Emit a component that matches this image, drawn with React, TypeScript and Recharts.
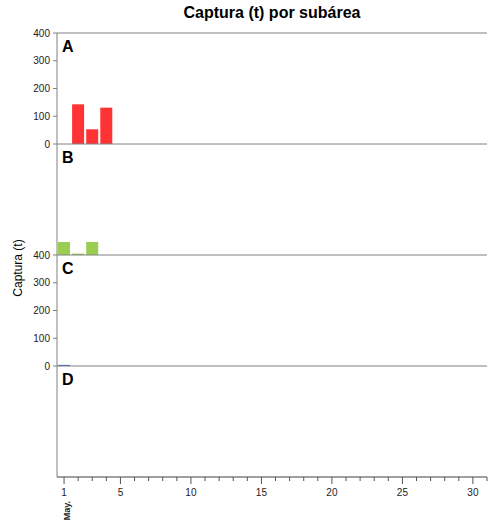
import { Bar, BarChart, ReferenceLine, XAxis, YAxis } from "recharts";

const days = Array.from({ length: 31 }, (_, i) => i + 1);
const subareas = ["A", "B", "C", "D"];
const colors = ["#ff3333", "#9acd50", "#3366cc", "#aa66cc"];

// catch (t) per day of May for each subarea
const catchA: Record<number, number> = { 2: 143, 3: 53, 4: 131 };
const catchB: Record<number, number> = { 1: 47, 2: 5, 3: 47 };
const catchC: Record<number, number> = { 1: 4 };
const catchD: Record<number, number> = {};
const seriesBySubarea = [catchA, catchB, catchC, catchD];

const yTicks = [0, 100, 200, 300, 400];
const xMajor = [1, 5, 10, 15, 20, 25, 30];

const PANEL_H = 111;
const TOP = 33;
const PAD = 12;
const FONT = "'Liberation Sans', Arial, sans-serif";

function XTick(props: any) {
  const { x, y, payload } = props;
  const major = xMajor.includes(payload.value);
  return (
    <g>
      <line x1={x} x2={x} y1={y} y2={y + (major ? 7 : 4)} stroke="#555" strokeWidth={1} />
      {major && (
        <text x={x} y={y + 19} textAnchor="middle" fontSize={10} fill="#222" fontFamily={FONT}>
          {payload.value}
        </text>
      )}
      {payload.value === 1 && (
        <text
          x={x + 6}
          y={y + 24}
          textAnchor="end"
          fontSize={9}
          fontWeight="bold"
          fill="#222"
          fontFamily={FONT}
          transform={`rotate(-90, ${x + 6}, ${y + 24})`}
        >
          May.
        </text>
      )}
    </g>
  );
}

function Panel({ index }: { index: number }) {
  const values = seriesBySubarea[index];
  const rows = days.map(day => ({ day, value: values[day] ?? 0 }));
  const last = index === subareas.length - 1;
  const showY = index % 2 === 0;
  const bottomExtra = last ? 44 : PAD;
  return (
    <div style={{ position: "absolute", left: 0, top: TOP - PAD + index * PANEL_H }}>
      <BarChart
        width={489}
        height={PANEL_H + PAD + bottomExtra}
        data={rows}
        margin={{ top: PAD, right: 2, bottom: last ? 0 : PAD, left: 0 }}
        style={{ overflow: "visible" }}
      >
        <XAxis
          dataKey="day"
          type="number"
          domain={[0.5, 31]}
          ticks={days}
          interval={0}
          hide={!last}
          height={last ? 44 : 0}
          axisLine={{ stroke: "#808080" }}
          tickLine={false}
          tickSize={0}
          tickMargin={0}
          tick={<XTick />}
        />
        <YAxis
          domain={[0, 400]}
          ticks={yTicks}
          width={57}
          axisLine={{ stroke: "#808080" }}
          tickLine={showY ? { stroke: "#808080" } : false}
          tick={showY ? { fontSize: 10, fill: "#222", fontFamily: FONT } : false}
          tickSize={4}
          tickMargin={3}
          interval={0}
        />
        {index === 0 && <ReferenceLine y={400} stroke="#808080" />}
        <ReferenceLine y={0} stroke="#808080" />
        <Bar dataKey="value" fill={colors[index]} barSize={12} isAnimationActive={false} />
      </BarChart>
      <div
        style={{
          position: "absolute",
          left: 62,
          top: PAD + 6,
          fontFamily: FONT,
          fontWeight: "bold",
          fontSize: 16,
          lineHeight: "16px",
          color: "#000",
        }}
      >
        {subareas[index]}
      </div>
    </div>
  );
}

export default function App() {
  return (
    <div style={{ position: "absolute", left: 0, top: 0, width: 489, height: 521, background: "#fff" }}>
      <div
        style={{
          position: "absolute",
          left: 57,
          width: 430,
          top: 4,
          textAlign: "center",
          fontFamily: FONT,
          fontWeight: "bold",
          fontSize: 16,
          color: "#000",
        }}
      >
        Captura (t) por subárea
      </div>
      <div
        style={{
          position: "absolute",
          left: 18,
          top: 268,
          transform: "translate(-50%, -50%) rotate(-90deg)",
          fontFamily: FONT,
          fontSize: 12,
          whiteSpace: "nowrap",
          color: "#000",
        }}
      >
        Captura (t)
      </div>
      {subareas.map((_, i) => (
        <Panel key={i} index={i} />
      ))}
    </div>
  );
}
